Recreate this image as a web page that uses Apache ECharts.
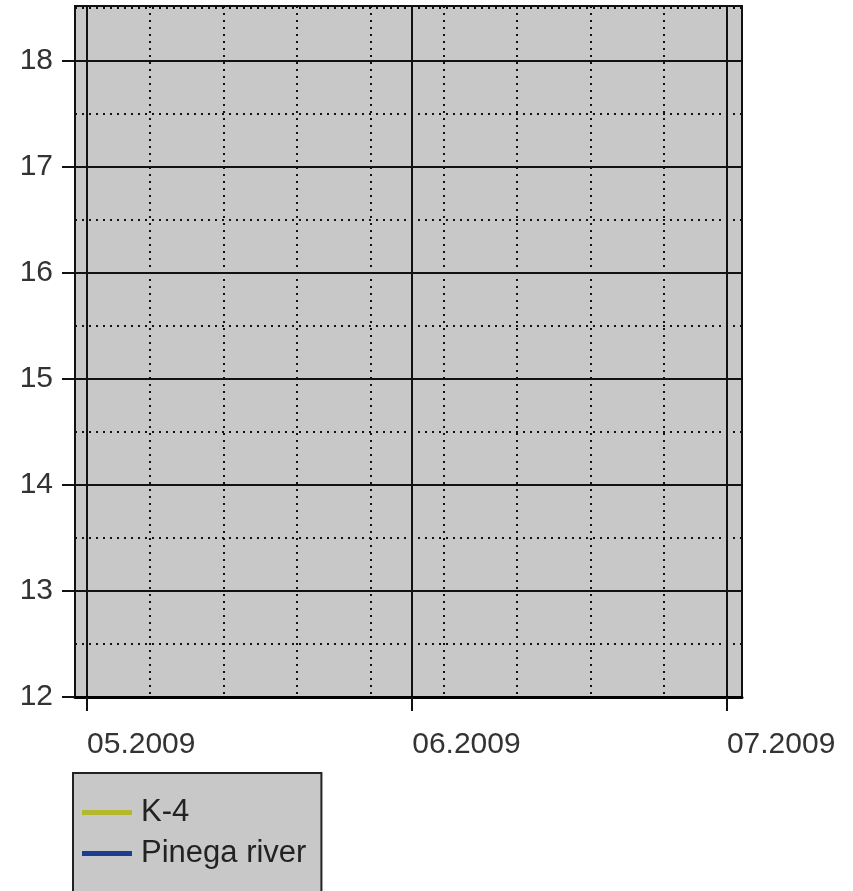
<!DOCTYPE html>
<html>
<head>
<meta charset="utf-8">
<script src="https://cdn.jsdelivr.net/npm/echarts@6/dist/echarts.min.js"></script>
<style>
html,body{margin:0;padding:0;background:#fff;}
#chart{width:853px;height:891px;}
</style>
</head>
<body>
<div id="chart"></div>
<script>
// ---- data ----
const seriesNames = ['K-4', 'Pinega river'];
const seriesColors = ['#b4b82c', '#1f3d90'];
const k4Values = [];        // no points visible in the displayed window
const pinegaValues = [];    // no points visible in the displayed window
const monthTicks = ['2009-05-01', '2009-06-01', '2009-07-01'];
const weekTicks = ['2009-05-07', '2009-05-14', '2009-05-21', '2009-05-28',
                   '2009-06-04', '2009-06-11', '2009-06-18', '2009-06-25'];
const yTicks = [12, 13, 14, 15, 16, 17, 18];
const xStart = '2009-04-29T20:30:00Z';
const xEnd = '2009-07-02T10:30:00Z';
const yMin = 12, yMax = 18.52;

// ---- build ----
const ms = s => Date.parse(s);
const monthMs = monthTicks.map(ms);
const weekMs = weekTicks.map(ms);
const xMin = ms(xStart), xMax = ms(xEnd);
const pad2 = n => (n < 10 ? '0' : '') + n;
const fmtMonth = v => { const d = new Date(v); return pad2(d.getUTCMonth() + 1) + '.' + d.getUTCFullYear(); };
const FONT = '"Liberation Sans", Arial, sans-serif';

const chart = echarts.init(document.getElementById('chart'), null, {renderer: 'canvas'});
chart.setOption({
  animation: false,
  backgroundColor: '#ffffff',
  grid: {
    left: 75, top: 6, right: 111, bottom: 194,
    show: true, backgroundColor: '#c8c8c8', borderColor: '#111', borderWidth: 2
  },
  legend: {
    orient: 'vertical',
    left: 73, top: 773, width: 300, height: 200,
    backgroundColor: '#c8c8c8',
    borderColor: '#222', borderWidth: 2, borderRadius: 0,
    padding: [24, 15, 40, 9],
    itemGap: 10,
    itemWidth: 50, itemHeight: 5,
    icon: 'rect',
    data: seriesNames,
    textStyle: {fontFamily: FONT, fontSize: 31, color: '#222', padding: [0, 0, 0, 4]}
  },
  xAxis: [{
    type: 'value', min: xMin, max: xMax, position: 'bottom',
    axisLine: {show: true, onZero: false, lineStyle: {color: '#000', width: 3}},
    axisTick: {show: true, customValues: monthMs, length: 14, lineStyle: {color: '#111', width: 2}},
    axisLabel: {customValues: monthMs, formatter: fmtMonth, align: 'left', margin: 33,
                fontFamily: FONT, fontSize: 30, color: '#333'},
    splitLine: {show: true, lineStyle: {color: '#111', width: 2, type: 'solid'}}
  }, {
    type: 'value', min: xMin, max: xMax, position: 'bottom',
    axisLine: {show: false}, axisLabel: {show: false},
    axisTick: {show: false, customValues: weekMs},
    splitLine: {show: true, lineStyle: {color: '#111', width: 2, type: [2, 5]}}
  }],
  yAxis: {
    type: 'value', min: yMin, max: yMax, interval: 1,
    axisLine: {show: true, lineStyle: {color: '#111', width: 2}},
    axisTick: {show: true, customValues: yTicks, length: 13, lineStyle: {color: '#111', width: 2}},
    axisLabel: {customValues: yTicks, margin: 22, fontFamily: FONT, fontSize: 30, color: '#333'},
    splitLine: {show: true, showMinLine: false, lineStyle: {color: '#111', width: 2}},
    minorTick: {show: false, splitNumber: 2},
    minorSplitLine: {show: true, lineStyle: {color: '#111', width: 2, type: [2, 5]}}
  },
  series: [{
    name: seriesNames[0], type: 'line', xAxisIndex: 0, yAxisIndex: 0,
    data: k4Values, showSymbol: false, color: seriesColors[0], lineStyle: {width: 3}
  }, {
    name: seriesNames[1], type: 'line', xAxisIndex: 0, yAxisIndex: 0,
    data: pinegaValues, showSymbol: false, color: seriesColors[1], lineStyle: {width: 3}
  }]
});
</script>
</body>
</html>
